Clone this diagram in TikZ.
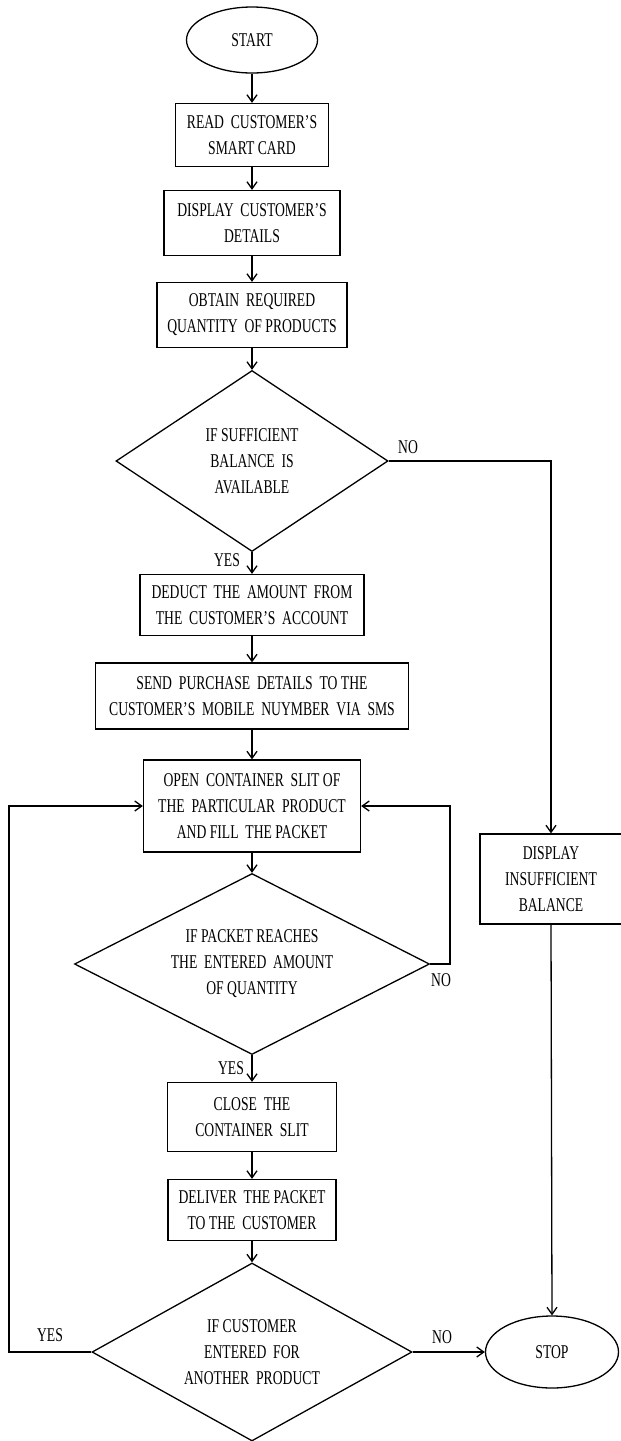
\documentclass[tikz,border=0pt]{standalone}
\usepackage{fontspec}
\setmainfont{Liberation Serif}[FakeStretch=0.7]
\usetikzlibrary{shapes.geometric,arrows.meta}
\begin{document}
\begin{tikzpicture}[x=1pt,y=-1pt,
  every node/.style={font=\fontsize{19.5}{26}\selectfont, align=center, inner sep=0pt, line width=1.3pt},
  box/.style={draw, rectangle},
  term/.style={draw, ellipse},
  decision/.style={draw, diamond},
  lbl/.style={},
  flow/.style={line width=1.3pt, -{Straight Barb[length=7pt,width=10pt]}},
  plain/.style={line width=1.3pt}]
\useasboundingbox (0,0) rectangle (621,1441);
% nodes
\node[term, minimum width=131pt, minimum height=66pt] (start) at (252,40) {START};
\node[box, minimum width=153pt, minimum height=63pt] (read) at (252,135) {READ \ CUSTOMER'S\\SMART CARD};
\node[box, minimum width=176pt, minimum height=65pt] (disp) at (252,223) {DISPLAY \ CUSTOMER'S\\DETAILS};
\node[box, minimum width=190pt, minimum height=65pt] (obtain) at (252,315) {OBTAIN \ REQUIRED\\QUANTITY \ OF PRODUCTS};
\node[decision, aspect=1.5, minimum width=272pt, minimum height=181pt] (dec1) at (252,461) {IF SUFFICIENT\\BALANCE \ IS\\AVAILABLE};
\node[box, minimum width=224pt, minimum height=61pt] (deduct) at (252,605) {DEDUCT \ THE \ AMOUNT \ FROM\\THE \ CUSTOMER'S \ ACCOUNT};
\node[box, minimum width=313pt, minimum height=66pt] (send) at (252,696) {SEND \ PURCHASE \ DETAILS \ TO THE\\CUSTOMER'S \ MOBILE \ NUYMBER \ VIA \ SMS};
\node[box, minimum width=217pt, minimum height=92pt] (open) at (252,806) {OPEN \ CONTAINER \ SLIT OF\\THE \ PARTICULAR \ PRODUCT\\AND FILL \ THE PACKET};
\node[decision, aspect=2, minimum width=355pt, minimum height=181pt] (dec2) at (252,964) {IF PACKET REACHES\\THE \ ENTERED \ AMOUNT\\OF QUANTITY};
\node[box, minimum width=169pt, minimum height=69pt] (close) at (252,1117) {CLOSE \ THE\\CONTAINER \ SLIT};
\node[box, minimum width=168pt, minimum height=61pt] (deliver) at (252,1210) {DELIVER \ THE PACKET\\TO THE \ CUSTOMER};
\node[decision, aspect=1.8, minimum width=320pt, minimum height=178pt] (dec3) at (252,1352) {IF CUSTOMER\\ENTERED \ FOR\\ANOTHER \ PRODUCT};
\node[box, minimum width=142pt, minimum height=90pt] (insuf) at (551,879) {DISPLAY\\INSUFFICIENT\\BALANCE};
\node[term, minimum width=133pt, minimum height=72pt] (stop) at (552,1352) {STOP};
% labels
\node[lbl] (no1) at (408,447) {NO};
\node[lbl] (yes1) at (227,560) {YES};
\node[lbl] (no2) at (441,980) {NO};
\node[lbl] (yes2) at (231,1068) {YES};
\node[lbl] (yes3) at (50,1335) {YES};
\node[lbl] (no3) at (442,1337) {NO};
% helper coordinates
\coordinate (r2) at (450,964);
\coordinate (l3) at (9,1352);
% connectors
\draw[flow] (start) -- (read);
\draw[flow] (read) -- (disp);
\draw[flow] (disp) -- (obtain);
\draw[flow] (obtain) -- (dec1);
\draw[flow] (dec1.south) -- (deduct);
\draw[flow] (deduct) -- (send);
\draw[flow] (send) -- (open);
\draw[flow] (open) -- (dec2);
\draw[flow] (dec2.south) -- (close);
\draw[flow] (close) -- (deliver);
\draw[flow] (deliver) -- (dec3);
\draw[flow] (dec1.east) -| (insuf.north);
\draw[flow] (insuf.south) -- (stop.north);
\draw[flow] (dec3.east) -- (stop.west);
\draw[flow] (dec2.east) -- (r2) |- (open.east);
\draw[flow] (dec3.west) -- (l3) |- (open.west);
\end{tikzpicture}
\end{document}
